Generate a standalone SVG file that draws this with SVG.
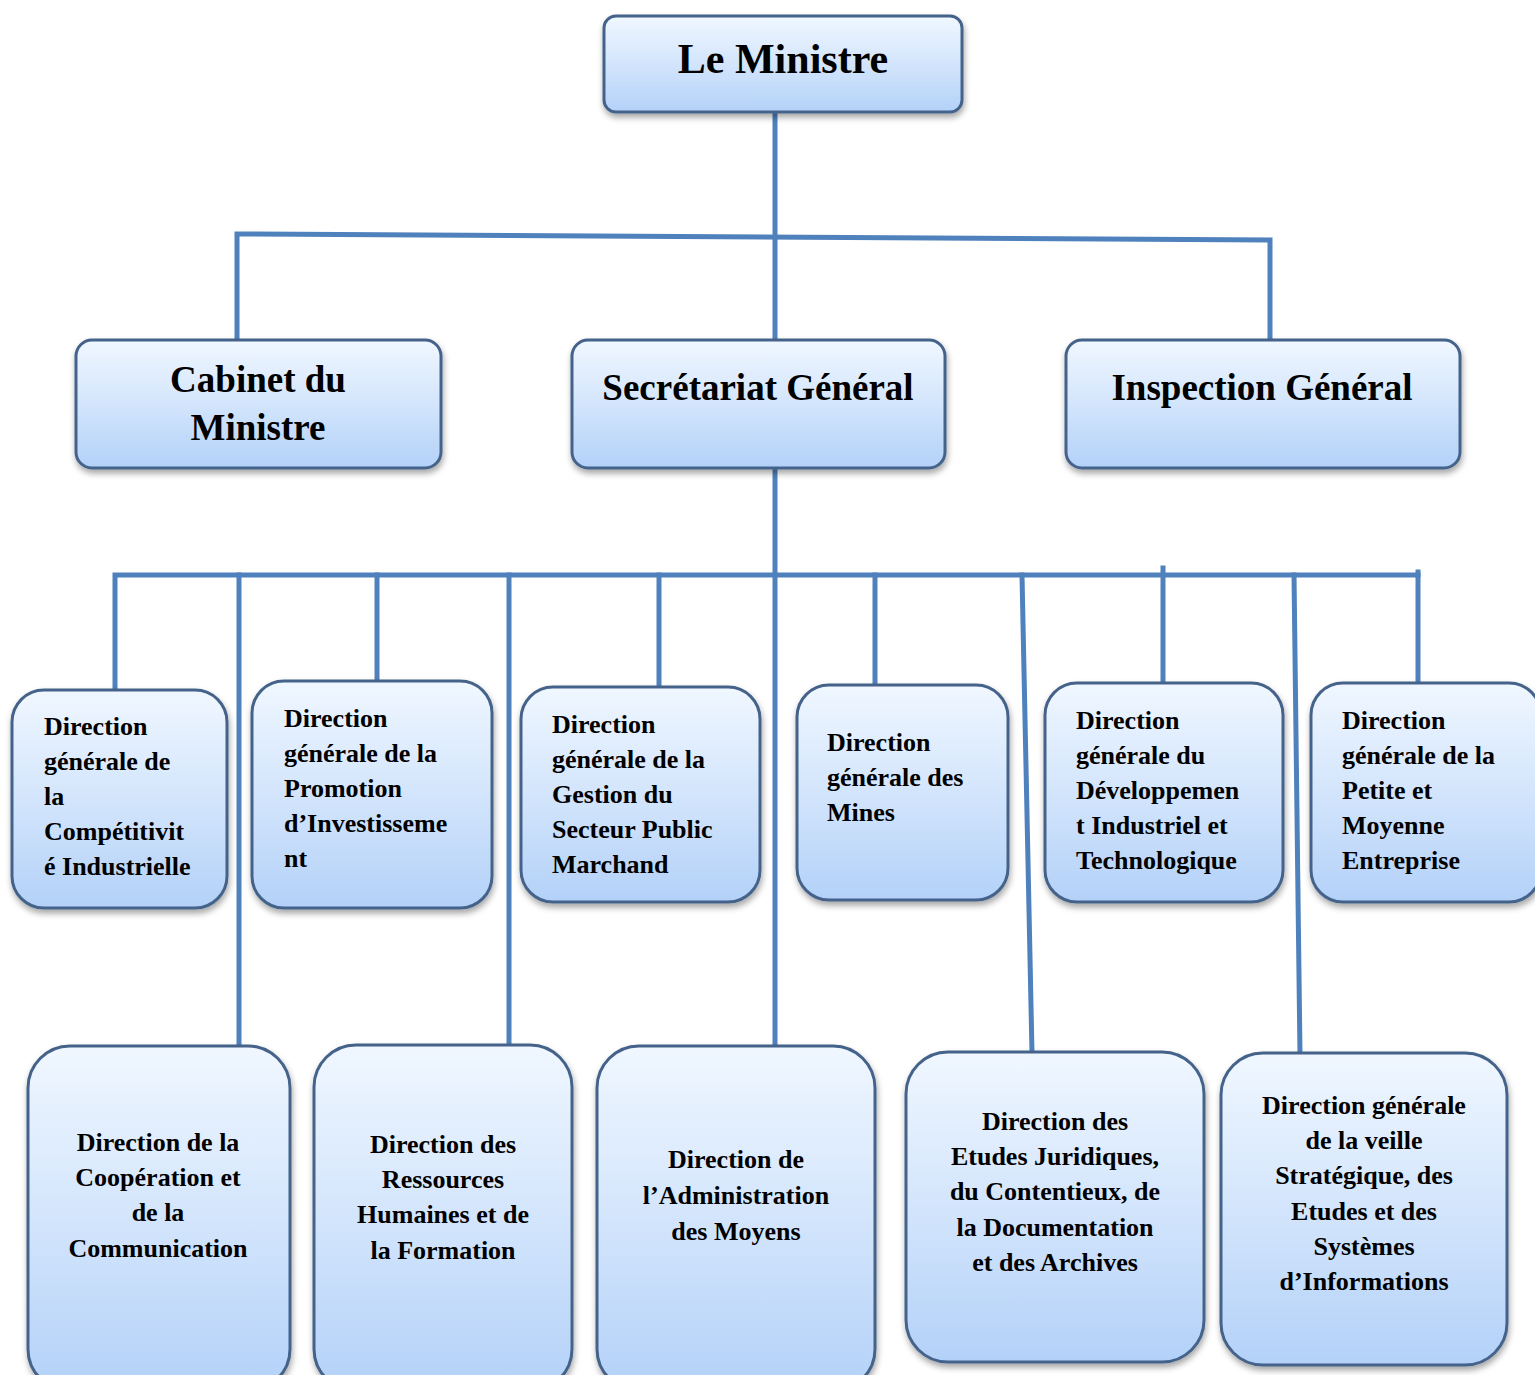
<svg xmlns="http://www.w3.org/2000/svg" width="1535" height="1375" viewBox="0 0 1535 1375">
<defs>
<linearGradient id="g" x1="0" y1="0" x2="0" y2="1">
<stop offset="0" stop-color="#f0f7ff"/>
<stop offset="0.5" stop-color="#d3e5fc"/>
<stop offset="1" stop-color="#b3d1f8"/>
</linearGradient>
<filter id="sh" x="-10%" y="-10%" width="120%" height="125%">
<feDropShadow dx="1" dy="4" stdDeviation="3" flood-color="#000" flood-opacity="0.35"/>
</filter>
</defs>
<style>
.box{fill:url(#g);stroke:#45648a;stroke-width:3;filter:url(#sh)}
.c{stroke:#4f81bd;stroke-width:5;fill:none;stroke-linecap:square}
text{font-family:"Liberation Serif","Times New Roman",serif;font-weight:bold;fill:#000}
.t1{font-size:42px;text-anchor:middle}
.t2{font-size:37px;text-anchor:middle}
.t3{font-size:26px}
.t4{font-size:26px;text-anchor:middle}
</style>
<rect width="1535" height="1375" fill="#fff"/>
<g id="connectors">
<path class="c" d="M775,112 V340"/>
<path class="c" d="M237,340 V234 L1270,240 V340"/>
<path class="c" d="M775,468 V1046"/>
<path class="c" d="M115,690 V575 H1418 V684"/>
<path class="c" d="M1418,572 V575"/>
<path class="c" d="M239,575 V1046"/>
<path class="c" d="M377,575 V682"/>
<path class="c" d="M509,575 V1046"/>
<path class="c" d="M659,575 V688"/>
<path class="c" d="M875,575 V686"/>
<path class="c" d="M1022,575 L1032,1053"/>
<path class="c" d="M1163,568 V684"/>
<path class="c" d="M1294,575 L1300,1055"/>
</g>
<g id="ministre">
<rect class="box" x="604" y="16" width="358" height="96" rx="12"/>
<text class="t1" x="783" y="73">Le Ministre</text>
</g>
<g id="cabinet">
<rect class="box" x="76" y="340" width="365" height="128" rx="16"/>
<text class="t2" x="258" y="392">Cabinet du</text>
<text class="t2" x="258" y="440">Ministre</text>
</g>
<g id="secretariat">
<rect class="box" x="572" y="340" width="373" height="128" rx="16"/>
<text class="t2" x="758" y="400">Secrétariat Général</text>
</g>
<g id="inspection">
<rect class="box" x="1066" y="340" width="394" height="128" rx="16"/>
<text class="t2" x="1262" y="400">Inspection Général</text>
</g>
<g id="dg-competitivite">
<rect class="box" x="12" y="690" width="215" height="218" rx="32"/>
<text class="t3" x="44" y="735">Direction</text>
<text class="t3" x="44" y="770">générale de</text>
<text class="t3" x="44" y="805">la</text>
<text class="t3" x="44" y="840">Compétitivit</text>
<text class="t3" x="44" y="875">é Industrielle</text>
</g>
<g id="dg-promotion">
<rect class="box" x="252" y="681" width="240" height="227" rx="32"/>
<text class="t3" x="284" y="727">Direction</text>
<text class="t3" x="284" y="762">générale de la</text>
<text class="t3" x="284" y="797">Promotion</text>
<text class="t3" x="284" y="832">d’Investisseme</text>
<text class="t3" x="284" y="867">nt</text>
</g>
<g id="dg-gestion">
<rect class="box" x="521" y="687" width="239" height="215" rx="32"/>
<text class="t3" x="552" y="733">Direction</text>
<text class="t3" x="552" y="768">générale de la</text>
<text class="t3" x="552" y="803">Gestion du</text>
<text class="t3" x="552" y="838">Secteur Public</text>
<text class="t3" x="552" y="873">Marchand</text>
</g>
<g id="dg-mines">
<rect class="box" x="797" y="685" width="211" height="215" rx="32"/>
<text class="t3" x="827" y="751">Direction</text>
<text class="t3" x="827" y="786">générale des</text>
<text class="t3" x="827" y="821">Mines</text>
</g>
<g id="dg-developpement">
<rect class="box" x="1045" y="683" width="238" height="219" rx="32"/>
<text class="t3" x="1076" y="729">Direction</text>
<text class="t3" x="1076" y="764">générale du</text>
<text class="t3" x="1076" y="799">Développemen</text>
<text class="t3" x="1076" y="834">t Industriel et</text>
<text class="t3" x="1076" y="869">Technologique</text>
</g>
<g id="dg-pme">
<rect class="box" x="1311" y="683" width="230" height="219" rx="32"/>
<text class="t3" x="1342" y="729">Direction</text>
<text class="t3" x="1342" y="764">générale de la</text>
<text class="t3" x="1342" y="799">Petite et</text>
<text class="t3" x="1342" y="834">Moyenne</text>
<text class="t3" x="1342" y="869">Entreprise</text>
</g>
<g id="d-cooperation">
<rect class="box" x="28" y="1046" width="262" height="345" rx="42"/>
<text class="t4" x="158" y="1151">Direction de la</text>
<text class="t4" x="158" y="1186">Coopération et</text>
<text class="t4" x="158" y="1221">de la</text>
<text class="t4" x="158" y="1257">Communication</text>
</g>
<g id="d-rh">
<rect class="box" x="314" y="1045" width="258" height="346" rx="42"/>
<text class="t4" x="443" y="1153">Direction des</text>
<text class="t4" x="443" y="1188">Ressources</text>
<text class="t4" x="443" y="1223">Humaines et de</text>
<text class="t4" x="443" y="1259">la Formation</text>
</g>
<g id="d-administration">
<rect class="box" x="597" y="1046" width="278" height="345" rx="42"/>
<text class="t4" x="736" y="1168">Direction de</text>
<text class="t4" x="736" y="1204">l’Administration</text>
<text class="t4" x="736" y="1240">des Moyens</text>
</g>
<g id="d-juridique">
<rect class="box" x="906" y="1052" width="298" height="310" rx="42"/>
<text class="t4" x="1055" y="1130">Direction des</text>
<text class="t4" x="1055" y="1165">Etudes Juridiques,</text>
<text class="t4" x="1055" y="1200">du Contentieux, de</text>
<text class="t4" x="1055" y="1236">la Documentation</text>
<text class="t4" x="1055" y="1271">et des Archives</text>
</g>
<g id="dg-veille">
<rect class="box" x="1221" y="1053" width="286" height="312" rx="42"/>
<text class="t4" x="1364" y="1114">Direction générale</text>
<text class="t4" x="1364" y="1149">de la veille</text>
<text class="t4" x="1364" y="1184">Stratégique, des</text>
<text class="t4" x="1364" y="1220">Etudes et des</text>
<text class="t4" x="1364" y="1255">Systèmes</text>
<text class="t4" x="1364" y="1290">d’Informations</text>
</g>
</svg>
